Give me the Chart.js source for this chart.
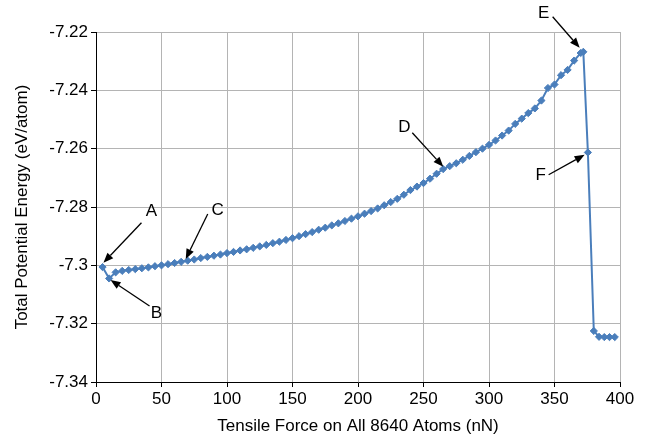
<!DOCTYPE html>
<html>
<head>
<meta charset="utf-8">
<script src="https://cdn.jsdelivr.net/npm/chart.js@4/dist/chart.umd.min.js"></script>
<style>
  html, body { margin: 0; padding: 0; background: #fff; }
  #wrap { width: 649px; height: 442px; }
</style>
</head>
<body>
<div id="wrap"><canvas id="energyChart"></canvas></div>
<script>
// Tensile force (nN) and potential energy (eV/atom)
const forceNN = [
    5, 10, 15, 20, 25, 30, 35, 40, 45, 50,
    55, 60, 65, 70, 75, 80, 85, 90, 95, 100,
    105, 110, 115, 120, 125, 130, 135, 140, 145, 150,
    155, 160, 165, 170, 175, 180, 185, 190, 195, 200,
    205, 210, 215, 220, 225, 230, 235, 240, 245, 250,
    255, 260, 265, 270, 275, 280, 285, 290, 295, 300,
    305, 310, 315, 320, 325, 330, 335, 340, 345, 350,
    355, 360, 365, 370, 372, 375.5, 380, 384, 388, 392, 396
];
const energy = [
    -7.3006, -7.3045, -7.3024, -7.3019, -7.3016, -7.3013, -7.3010, -7.3007, -7.3003, -7.3000,
    -7.2996, -7.2992, -7.2988, -7.2984, -7.2980, -7.2975, -7.2971, -7.2967, -7.2963, -7.2958,
    -7.2954, -7.2949, -7.2945, -7.2940, -7.2935, -7.2930, -7.2924, -7.2919, -7.2913, -7.2907,
    -7.2900, -7.2893, -7.2886, -7.2878, -7.2871, -7.2863, -7.2856, -7.2848, -7.2840, -7.2832,
    -7.2823, -7.2814, -7.2805, -7.2794, -7.2783, -7.2772, -7.2758, -7.2742, -7.2730, -7.2718,
    -7.2703, -7.2686, -7.2670, -7.2660, -7.2650, -7.2638, -7.2625, -7.2612, -7.2600, -7.2587,
    -7.2572, -7.2555, -7.2538, -7.2515, -7.2497, -7.2478, -7.2462, -7.2435, -7.2392, -7.2380,
    -7.2348, -7.2330, -7.2298, -7.2272, -7.2268, -7.2613, -7.3225, -7.3245, -7.3246, -7.3246, -7.3246
];
const xTicks = [0, 50, 100, 150, 200, 250, 300, 350, 400];
const yTicks = [-7.34, -7.32, -7.3, -7.28, -7.26, -7.24, -7.22];

// letter callouts: arrow tip in data units, arrow tail and label as pixel offsets from the tip
const callouts = [
    { text: 'A', x: 5.7,   y: -7.2991, tail: [38, -40], label: [48, -51] },
    { text: 'B', x: 11.1,  y: -7.3050, tail: [39, 26],  label: [46, 33] },
    { text: 'C', x: 68.5,  y: -7.2978, tail: [22, -45], label: [32, -49] },
    { text: 'D', x: 265.1, y: -7.2662, tail: [-31, -34], label: [-39, -39] },
    { text: 'E', x: 369.2, y: -7.2254, tail: [-27, -31], label: [-36, -34] },
    { text: 'F', x: 373.0, y: -7.2621, tail: [-36, 20], label: [-44, 21] }
];

const calloutPlugin = {
    id: 'callouts',
    afterDraw(chart) {
        const ctx = chart.ctx;
        const xs = chart.scales.x, ys = chart.scales.y;
        ctx.save();
        callouts.forEach(c => {
            const tx = xs.getPixelForValue(c.x);
            const ty = ys.getPixelForValue(c.y);
            const sx = tx + c.tail[0], sy = ty + c.tail[1];
            const ang = Math.atan2(ty - sy, tx - sx);
            const head = 10, half = 4;
            const bx = tx - head * Math.cos(ang), by = ty - head * Math.sin(ang);
            ctx.strokeStyle = '#000';
            ctx.fillStyle = '#000';
            ctx.lineWidth = 1.3;
            ctx.beginPath();
            ctx.moveTo(sx, sy);
            ctx.lineTo(bx, by);
            ctx.stroke();
            ctx.beginPath();
            ctx.moveTo(tx, ty);
            ctx.lineTo(bx + half * Math.sin(ang), by - half * Math.cos(ang));
            ctx.lineTo(bx - half * Math.sin(ang), by + half * Math.cos(ang));
            ctx.closePath();
            ctx.fill();
            ctx.font = '17px "Liberation Sans", Arial, sans-serif';
            ctx.textAlign = 'center';
            ctx.textBaseline = 'middle';
            ctx.fillText(c.text, tx + c.label[0], ty + c.label[1]);
        });
        ctx.restore();
    }
};

const points = forceNN.map((f, i) => ({ x: f, y: energy[i] }));
const blue = '#4a7ebb';
const gridGray = '#b4b4b4';
const font = { family: '"Liberation Sans", Arial, sans-serif', size: 17 };

const energyChart = new Chart(document.getElementById('energyChart').getContext('2d'), {
    type: 'line',
    data: {
        datasets: [{
            data: points,
            borderColor: blue,
            backgroundColor: blue,
            borderWidth: 2,
            pointStyle: 'rectRot',
            pointRadius: 3.6,
            pointBorderWidth: 1,
            pointHoverRadius: 3.6,
            tension: 0
        }]
    },
    options: {
        responsive: true,
        maintainAspectRatio: false,
        animation: false,
        layout: { padding: { top: 32, right: 29, bottom: 0, left: 0 } },
        plugins: { legend: { display: false }, tooltip: { enabled: false } },
        scales: {
            x: {
                type: 'linear',
                min: 0,
                max: 400,
                afterBuildTicks: s => { s.ticks = xTicks.map(v => ({ value: v })); },
                afterFit: s => { s.height = 60; },
                grid: { color: gridGray, tickColor: '#000', tickLength: 5 },
                border: { color: '#000', width: 1 },
                ticks: { color: '#000', font: font, padding: 2, maxRotation: 0 },
                title: {
                    display: true,
                    text: 'Tensile Force on All 8640 Atoms (nN)',
                    color: '#000',
                    font: font,
                    padding: { top: 0, bottom: 5 }
                }
            },
            y: {
                min: -7.34,
                max: -7.22,
                afterBuildTicks: s => { s.ticks = yTicks.map(v => ({ value: v })); },
                afterFit: s => { s.width = 96; },
                grid: { color: gridGray, tickColor: '#000', tickLength: 5 },
                border: { color: '#000', width: 1 },
                ticks: {
                    color: '#000',
                    font: font,
                    padding: 3,
                    callback: v => String(parseFloat(v.toFixed(2)))
                },
                title: {
                    display: true,
                    text: 'Total Potential Energy (eV/atom)',
                    color: '#000',
                    font: font,
                    padding: { top: 12, bottom: 0 }
                }
            }
        }
    },
    plugins: [calloutPlugin]
});
</script>
</body>
</html>
